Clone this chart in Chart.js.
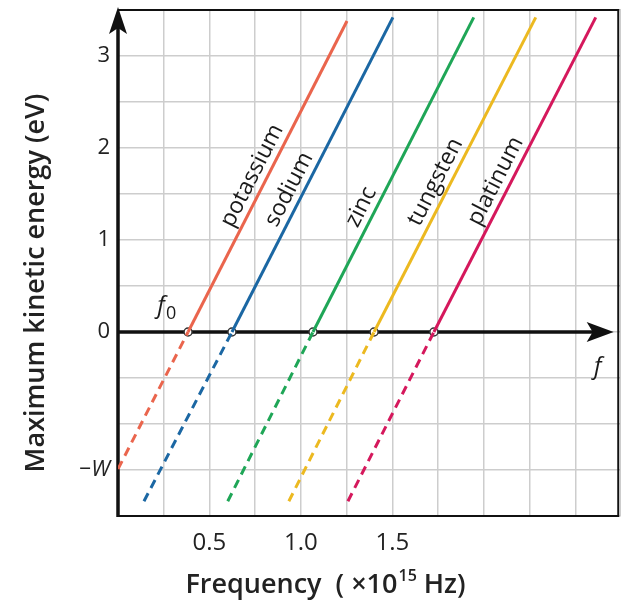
<!DOCTYPE html>
<html>
<head>
<meta charset="utf-8">
<script src="https://cdn.jsdelivr.net/npm/chart.js@4/dist/chart.umd.min.js"></script>
<style>
  html, body { margin: 0; padding: 0; background: #fff; }
</style>
</head>
<body>
<canvas id="photoChart" width="621" height="603"></canvas>
<script>
// values (frequency in 10^15 Hz, energy in eV)
const metals = ['potassium', 'sodium', 'zinc', 'tungsten', 'platinum'];
const metalColors = ['#ea654d', '#1b67a3', '#1fa657', '#ecb920', '#d5185c'];
const thresholdFreq = [0.383, 0.623, 1.066, 1.40, 1.727];
const topFreq = [1.252, 1.503, 1.945, 2.284, 2.612];
const topEnergy = [3.38, 3.42, 3.42, 3.42, 3.42];
const lowFreq = [0, 0.142, 0.60, 0.934, 1.257];
const lowEnergy = [-1.49, -1.84, -1.84, -1.84, -1.84];
const labelEnergy = [1.63, 1.48, 1.29, 1.56, 1.57];
const xTickLabels = { '0.5': '0.5', '1': '1.0', '1.5': '1.5' };
const yTickLabels = { '3': '3', '2': '2', '1': '1', '0': '0', '-1.5': '−W' };
const xAxisEnd = 2.71;
const frameRight = 2.735;

const FONT = "'Open Sans', 'DejaVu Sans', sans-serif";
const key = v => String(Math.round(v * 100) / 100);

const datasets = [];
metals.forEach((m, i) => {
  datasets.push({
    label: m,
    data: [{ x: thresholdFreq[i], y: 0 }, { x: topFreq[i], y: topEnergy[i] }],
    borderColor: metalColors[i],
    borderWidth: 3,
    pointRadius: 0,
    showLine: true
  });
  datasets.push({
    label: m + ' (extrapolated)',
    data: [{ x: lowFreq[i], y: lowEnergy[i] }, { x: thresholdFreq[i], y: 0 }],
    borderColor: metalColors[i],
    borderWidth: 3,
    borderDash: [9, 6],
    pointRadius: 0,
    showLine: true
  });
});
datasets.push({
  label: 'threshold',
  data: thresholdFreq.map(f => ({ x: f, y: 0 })),
  pointRadius: 4,
  pointBackgroundColor: '#fff',
  pointBorderColor: '#333',
  pointBorderWidth: 1.5,
  showLine: false,
  clip: false
});

function arrowHead(ctx, x, y, dir) {
  ctx.beginPath();
  if (dir === 'up') {
    ctx.moveTo(x, y);
    ctx.lineTo(x + 9, y + 27);
    ctx.lineTo(x, y + 21);
    ctx.lineTo(x - 9, y + 27);
  } else {
    ctx.moveTo(x, y);
    ctx.lineTo(x - 27, y - 10);
    ctx.lineTo(x - 21, y);
    ctx.lineTo(x - 27, y + 10);
  }
  ctx.closePath();
  ctx.fill();
}

const axesPlugin = {
  id: 'axesPlugin',
  beforeDatasetsDraw(chart) {
    const { ctx, chartArea: a, scales: { x, y } } = chart;
    const xr = x.getPixelForValue(frameRight);
    ctx.save();
    ctx.strokeStyle = '#111';
    ctx.fillStyle = '#111';
    // frame top / right / bottom
    ctx.lineWidth = 2;
    ctx.beginPath();
    ctx.moveTo(a.left, a.top); ctx.lineTo(xr, a.top);
    ctx.lineTo(xr, a.bottom); ctx.lineTo(a.left, a.bottom);
    ctx.stroke();
    // energy axis
    const x0 = x.getPixelForValue(0);
    const y0 = y.getPixelForValue(0);
    ctx.lineWidth = 3.5;
    ctx.beginPath();
    ctx.moveTo(x0, a.bottom + 1);
    ctx.lineTo(x0, a.top + 10);
    ctx.stroke();
    arrowHead(ctx, x0, a.top - 3, 'up');
    // frequency axis
    const xe = x.getPixelForValue(xAxisEnd);
    ctx.beginPath();
    ctx.moveTo(x0, y0);
    ctx.lineTo(xe - 12, y0);
    ctx.stroke();
    arrowHead(ctx, xe, y0, 'right');
    ctx.restore();
  },
  afterDatasetsDraw(chart) {
    const { ctx, scales: { x, y } } = chart;
    ctx.save();
    ctx.fillStyle = '#1a1a1a';
    // metal names along their lines
    metals.forEach((m, i) => {
      const slope = topEnergy[i] / (topFreq[i] - thresholdFreq[i]);
      const f = thresholdFreq[i] + labelEnergy[i] / slope;
      const px = x.getPixelForValue(f);
      const py = y.getPixelForValue(labelEnergy[i]);
      const dx = x.getPixelForValue(f + 1) - px;
      const dy = y.getPixelForValue(labelEnergy[i] + slope) - py;
      const ang = Math.atan2(dy, dx);
      const off = 14;
      ctx.save();
      ctx.translate(px + off * Math.sin(ang), py - off * Math.cos(ang));
      ctx.rotate(ang);
      ctx.font = '23px ' + FONT;
      ctx.textAlign = 'center';
      ctx.textBaseline = 'middle';
      ctx.fillText(m, 0, 0);
      ctx.restore();
    });
    // f0 and f
    ctx.font = 'italic 24px ' + FONT;
    ctx.textAlign = 'center';
    ctx.textBaseline = 'alphabetic';
    const fx = x.getPixelForValue(thresholdFreq[0]) - 27;
    const fy = y.getPixelForValue(0) - 19;
    ctx.fillText('f', fx, fy);
    ctx.font = '18px ' + FONT;
    ctx.fillText('0', fx + 10, fy + 6);
    ctx.font = 'italic 24px ' + FONT;
    ctx.fillText('f', x.getPixelForValue(xAxisEnd) - 16, y.getPixelForValue(0) + 42);
    ctx.restore();
  },
  afterDraw(chart) {
    // axis titles
    const ctx = chart.ctx;
    ctx.save();
    ctx.fillStyle = '#222';
    ctx.textBaseline = 'middle';
    // y title
    ctx.font = '600 27px ' + FONT;
    ctx.translate(36, 283);
    ctx.rotate(-Math.PI / 2);
    ctx.textAlign = 'center';
    ctx.fillText('Maximum kinetic energy (eV)', 0, 0);
    ctx.restore();
    // x title with superscript
    ctx.save();
    ctx.fillStyle = '#222';
    ctx.textBaseline = 'alphabetic';
    ctx.textAlign = 'left';
    const partA = 'Frequency  ( ×10', sup = '15', partB = ' Hz)';
    const big = '600 27px ' + FONT, small = '600 16px ' + FONT;
    ctx.font = big; const wa = ctx.measureText(partA).width, wb = ctx.measureText(partB).width;
    ctx.font = small; const ws = ctx.measureText(sup).width;
    let cx = 325 - (wa + ws + wb) / 2;
    const base = 593;
    ctx.font = big; ctx.fillText(partA, cx, base); cx += wa;
    ctx.font = small; ctx.fillText(sup, cx + 1, base - 12); cx += ws + 1;
    ctx.font = big; ctx.fillText(partB, cx, base);
    ctx.restore();
  }
};

new Chart(document.getElementById('photoChart'), {
  type: 'scatter',
  data: { datasets },
  options: {
    responsive: false,
    animation: false,
    layout: { autoPadding: false, padding: { left: 20, top: 10, right: 0, bottom: 0 } },
    plugins: { legend: { display: false }, tooltip: { enabled: false } },
    scales: {
      x: {
        type: 'linear',
        min: 0,
        max: 2.75,
        afterFit: s => { s.height = 87; s.paddingLeft = 0; s.paddingRight = 0; },
        border: { display: false },
        grid: { color: '#cdcdcd', lineWidth: 1.5, drawTicks: false },
        ticks: {
          stepSize: 0.25,
          autoSkip: false,
          maxRotation: 0,
          padding: 13,
          color: '#222',
          font: { family: FONT, size: 24 },
          callback: v => xTickLabels[key(v)] || ''
        }
      },
      y: {
        type: 'linear',
        min: -2,
        max: 3.5,
        afterFit: s => { s.width = 98; s.paddingTop = 0; s.paddingBottom = 0; },
        border: { display: false },
        grid: { color: '#cdcdcd', lineWidth: 1.5, drawTicks: false },
        ticks: {
          stepSize: 0.5,
          autoSkip: false,
          padding: 8,
          color: '#222',
          font: c => ({ family: FONT, size: 22, style: (c.tick && c.tick.value === -1.5) ? 'italic' : 'normal' }),
          callback: v => yTickLabels[key(v)] || ''
        }
      }
    }
  },
  plugins: [axesPlugin]
});
</script>
</body>
</html>
